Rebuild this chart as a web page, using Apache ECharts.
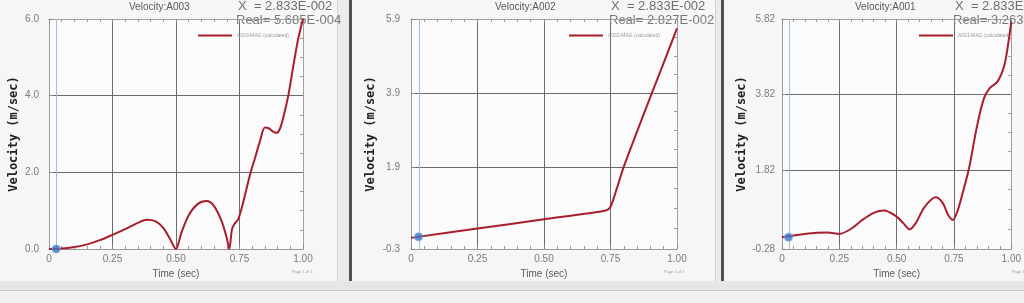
<!DOCTYPE html>
<html><head><meta charset="utf-8">
<script src="https://cdn.jsdelivr.net/npm/echarts@6.0.0/dist/echarts.min.js"></script>
<style>
html,body{margin:0;padding:0;background:#ebebeb;width:1024px;height:303px;overflow:hidden;position:relative}
.pn{position:absolute;top:0;height:281px;background:#f6f6f6}
#p1{left:0;width:337px;border-right:1px solid #d2d2d2}
#p2{left:349px;width:363px;border-left:3px solid #505050;border-right:1px solid #d2d2d2}
#p3{left:721px;width:300px;border-left:3px solid #505050}
#strip{position:absolute;left:0;top:281px;width:1024px;height:9px;background:#e6e6e6;border-bottom:1px solid #c9c9c9}
#bot{position:absolute;left:0;top:291px;width:1024px;height:12px;background:#f0f0f0}
#c{position:absolute;left:0;top:0;width:1024px;height:303px}
</style>
</head><body>
<div class="pn" id="p1"></div><div class="pn" id="p2"></div><div class="pn" id="p3"></div>
<div id="strip"></div><div id="bot"></div>
<div id="c"></div>
<script>
// ---- data ----
const titles = ['Velocity:A003', 'Velocity:A002', 'Velocity:A001'];
const seriesNames = ['A003-MAG (calculated)', 'A002-MAG (calculated)', 'A001-MAG (calculated)'];
const cursorX = 0.02833;
const cursorXText = 'X  = 2.833E-002';
const cursorReal = [5.685e-4, 2.827e-2, 3.263e-2];
const realTexts = ['Real= 5.685E-004', 'Real= 2.827E-002', 'Real= 3.263E-002'];

const xTicks = [0, 0.25, 0.5, 0.75, 1.0];
const yTicks1 = [0, 2, 4, 6];
const yTicks2 = [-0.3, 1.9, 3.9, 5.9];
const yTicks3 = [-0.28, 1.82, 3.82, 5.82];

const time1 = [0, 0.05, 0.1, 0.15, 0.2, 0.25, 0.3, 0.35, 0.385, 0.42, 0.45, 0.475, 0.5, 0.52, 0.55, 0.585, 0.62, 0.65, 0.68, 0.7, 0.71, 0.72, 0.73, 0.745, 0.76, 0.775, 0.794, 0.81, 0.83, 0.85, 0.865, 0.88, 0.896, 0.91, 0.925, 0.942, 0.96, 0.98, 1.0];
const vel1  = [0, 0.01, 0.05, 0.12, 0.23, 0.37, 0.52, 0.68, 0.76, 0.72, 0.55, 0.28, 0, 0.4, 0.88, 1.17, 1.25, 1.12, 0.72, 0.28, 0, 0.5, 0.65, 0.78, 1.1, 1.5, 2.0, 2.35, 2.8, 3.17, 3.15, 3.07, 3.03, 3.15, 3.5, 4.0, 4.7, 5.45, 6.0];

const time2 = [0, 0.25, 0.5, 0.72, 0.74, 0.75, 0.76, 0.775, 0.8, 0.85, 0.9, 0.95, 1.0];
const vel2  = [0, 0.25, 0.5, 0.72, 0.76, 0.84, 1.02, 1.36, 1.92, 2.87, 3.8, 4.72, 5.65];

const time3 = [0, 0.05, 0.1, 0.15, 0.2, 0.25, 0.3, 0.35, 0.4, 0.445, 0.5, 0.53, 0.556, 0.585, 0.62, 0.67, 0.7, 0.725, 0.745, 0.765, 0.79, 0.815, 0.85, 0.88, 0.905, 0.94, 0.97, 0.99, 1.0];
const vel3  = [0.03, 0.08, 0.12, 0.15, 0.16, 0.12, 0.25, 0.49, 0.68, 0.74, 0.58, 0.4, 0.24, 0.42, 0.82, 1.09, 0.95, 0.62, 0.49, 0.72, 1.25, 1.84, 2.96, 3.7, 3.98, 4.16, 4.6, 5.3, 5.75];

// ---- layout ----
const times = [time1, time2, time3];
const vels = [vel1, vel2, vel3];
const yTicks = [yTicks1, yTicks2, yTicks3];
const yDec = [1, 1, 2];
const grids = [
  {left: 49, top: 19, width: 254, height: 230},
  {left: 411, top: 19, width: 266, height: 230},
  {left: 782, top: 19, width: 240, height: 230}
];
const yNameGap = [29, 34, 32];
const yLabelMargin = [10, 11, 7];
const titleX = [162, 528, 888];
const infoX = [236, 609, 953];
const legendX = [198, 569, 919];
const pageX = [292, 664, 1012];

const RED = '#a81e2e';
const SANS = 'Liberation Sans, Arial, sans-serif';

const chart = echarts.init(document.getElementById('c'), null, {renderer: 'canvas'});

const xAxis = [], yAxis = [], series = [], legend = [], graphic = [];
for (let i = 0; i < 3; i++) {
  const yt = yTicks[i];
  const minor = [];
  for (let k = 0; k < yt.length - 1; k++) {
    const a = yt[k], b = yt[k + 1];
    minor.push(a + (b - a) * 0.25, a + (b - a) * 0.5, a + (b - a) * 0.75);
  }
  xAxis.push({
    gridIndex: i, type: 'value', min: 0, max: 1, interval: 0.25, position: 'bottom',
    axisLine: {show: true, onZero: false, lineStyle: {color: '#9a9a9a'}},
    axisTick: {show: true, inside: true, length: 4, lineStyle: {color: '#8a8a8a'}},
    minorTick: {show: true, splitNumber: 5, length: 3, lineStyle: {color: '#9a9a9a'}},
    splitLine: {show: true, lineStyle: {color: '#6a6a6a', width: 1}},
    axisLabel: {color: '#7a7a7a', fontSize: 10, fontFamily: SANS, margin: 5,
      customValues: xTicks,
      formatter: v => v === 0 ? '0' : v.toFixed(2)},
    name: 'Time (sec)', nameLocation: 'middle', nameGap: 19,
    nameTextStyle: {color: '#5a5a5a', fontSize: 10, fontFamily: SANS}
  });
  xAxis.push({
    gridIndex: i, type: 'value', min: 0, max: 1, interval: 0.25, position: 'top',
    axisLine: {show: true, onZero: false, lineStyle: {color: '#a0a0a0'}},
    axisTick: {show: true, inside: true, length: 4, lineStyle: {color: '#8a8a8a'}},
    minorTick: {show: true, splitNumber: 5, length: 3, lineStyle: {color: '#9a9a9a'}},
    splitLine: {show: false}, axisLabel: {show: false}
  });
  yAxis.push({
    gridIndex: i, type: 'value', min: yt[0], max: yt[yt.length - 1], position: 'left',
    axisLine: {show: true, onZero: false, lineStyle: {color: '#9a9a9a'}},
    axisTick: {show: true, inside: true, length: 4, customValues: yt, lineStyle: {color: '#8a8a8a'}},
    splitLine: {show: true, lineStyle: {color: '#6a6a6a', width: 1}},
    axisLabel: {color: '#7a7a7a', fontSize: 10, fontFamily: SANS, margin: yLabelMargin[i],
      customValues: yt, formatter: v => v.toFixed(yDec[i])},
    name: 'Velocity (m/sec)', nameLocation: 'middle', nameRotate: 90, nameGap: yNameGap[i],
    nameTextStyle: {color: '#222222', fontSize: 12, fontWeight: 'bold', fontFamily: 'DejaVu Sans Mono, monospace'}
  });
  yAxis.push({
    gridIndex: i, type: 'value', min: yt[0], max: yt[yt.length - 1], position: 'right',
    axisLine: {show: true, onZero: false, lineStyle: {color: '#a0a0a0'}},
    axisTick: {show: true, inside: true, length: 3, customValues: minor, lineStyle: {color: '#9a9a9a'}},
    splitLine: {show: false}, axisLabel: {show: false}
  });
  series.push({
    name: seriesNames[i], type: 'line', xAxisIndex: 2 * i, yAxisIndex: 2 * i,
    data: times[i].map((t, k) => [t, vels[i][k]]),
    showSymbol: false, smooth: 0.3, z: 5,
    lineStyle: {color: RED, width: 2}, itemStyle: {color: RED},
    markLine: {silent: true, symbol: 'none', label: {show: false}, animation: false,
      lineStyle: {color: '#9fbfe2', width: 1, type: 'solid'},
      data: [{xAxis: cursorX}]}
  });
  series.push({
    name: 'cursor' + i, type: 'scatter', xAxisIndex: 2 * i, yAxisIndex: 2 * i,
    data: [[cursorX, cursorReal[i]]], symbolSize: 8, z: 8,
    itemStyle: {color: '#3a78c8', borderColor: '#7aa6dc', borderWidth: 1}
  });
  legend.push({
    data: [seriesNames[i]], left: legendX[i], top: 33, padding: 0, itemGap: 0,
    itemWidth: 34, itemHeight: 2, icon: 'rect', selectedMode: false,
    textStyle: {fontSize: 5, color: '#9a9a9a', fontFamily: SANS}
  });
  graphic.push({type: 'text', left: titleX[i] - 33, top: 2,
    style: {text: titles[i], fill: '#5a5a5a', font: '10px ' + SANS}});
  graphic.push({type: 'text', left: infoX[i] + 2, top: 0,
    style: {text: cursorXText, fill: '#6e6e6e', font: '13px ' + SANS}});
  graphic.push({type: 'text', left: infoX[i], top: 14,
    style: {text: realTexts[i], fill: '#7a7a7a', font: '13px ' + SANS}});
  graphic.push({type: 'text', left: pageX[i], top: 270,
    style: {text: 'Page 1 of 1', fill: '#a0a0a0', font: '4px ' + SANS}});
}

chart.setOption({
  animation: false,
  backgroundColor: 'transparent',
  grid: grids.map(g => Object.assign({show: true, backgroundColor: '#fbfbfb', borderWidth: 0}, g)),
  xAxis, yAxis, series, legend, graphic
});
</script>
</body></html>
